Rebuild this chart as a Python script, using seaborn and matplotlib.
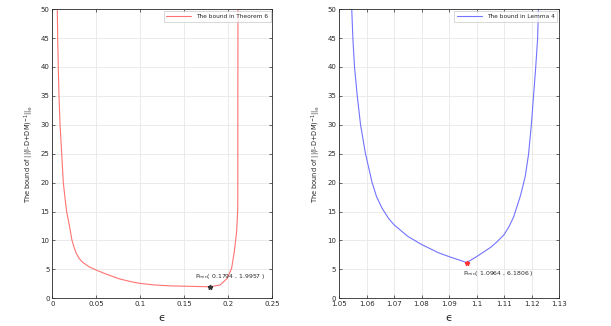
'''two bound curves vs epsilon, side by side'''
import numpy as np
import pandas as pd
import seaborn as sns
import matplotlib
matplotlib.use('Agg')
import matplotlib.pyplot as plt
from matplotlib import ticker

#region data
left_eps = [0.0057, 0.0061, 0.0068, 0.0076, 0.0088, 0.0107, 0.0125, 0.0150, 0.0162,
            0.0196, 0.0224, 0.0248, 0.0273, 0.0305, 0.0342, 0.0418, 0.0503, 0.061,
            0.0763, 0.0916, 0.1, 0.1146, 0.1337, 0.164, 0.1794, 0.1906, 0.1989,
            0.2038, 0.2068, 0.2095, 0.2108, 0.2110]
left_bound = [50, 45, 40, 35, 30, 25, 20, 16.6, 15.1,
              12.4, 10, 8.8, 7.75, 6.9, 6.25, 5.45, 4.85, 4.2,
              3.35, 2.8, 2.58, 2.32, 2.15, 2.04, 1.9957, 2.3, 3.45,
              5.2, 8.0, 11.5, 15.5, 50]
left_min = (0.1794, 1.9957)

right_eps = [1.0546, 1.0550, 1.0556, 1.0566, 1.0578, 1.0596, 1.062, 1.0636, 1.0656,
             1.068, 1.07, 1.075, 1.08, 1.086, 1.09, 1.0932, 1.0964, 1.1, 1.1051,
             1.1075, 1.11, 1.1118, 1.1135, 1.116, 1.1177, 1.1189, 1.1199, 1.1207,
             1.1215, 1.1222, 1.1225]
right_bound = [50, 45, 40, 35, 30, 25, 20, 17.6, 15.6,
               13.8, 12.7, 10.7, 9.3, 7.9, 7.2, 6.7, 6.1806, 7.2, 8.8,
               9.8, 11.0, 12.4, 14.1, 17.8, 21.1, 24.9, 29.9, 34.9,
               39.9, 44.9, 50]
right_min = (1.0964, 6.1806)

left_xticks = [0, 0.05, 0.1, 0.15, 0.2, 0.25]
right_xticks = [1.05, 1.06, 1.07, 1.08, 1.09, 1.1, 1.11, 1.12, 1.13]
yticks = [0, 5, 10, 15, 20, 25, 30, 35, 40, 45, 50]
#endregion

sns.set_theme(style='whitegrid', rc={'grid.color': '#e8e8e8', 'grid.linewidth': 0.6,
                                     'axes.edgecolor': '#2b2b2b', 'axes.linewidth': 0.6})
plt.rcParams['font.family'] = ['DejaVu Sans']

fig = plt.figure(figsize=(6.11, 3.26), dpi=100)
ax_l = fig.add_axes([0.0856, 0.085, 0.360, 0.887])
ax_r = fig.add_axes([0.555, 0.085, 0.360, 0.887])

ylab = 'The bound of ||(I-D+DM)$^{-1}$||$_{\\infty}$'


def style_axis(ax, xticks):
    '''common MATLAB-ish look'''
    ax.set_xlim(xticks[0], xticks[-1])
    ax.set_ylim(0, 50)
    ax.set_xticks(xticks)
    ax.set_yticks(yticks)
    ax.xaxis.set_major_formatter(ticker.FormatStrFormatter('%g'))
    ax.tick_params(axis='both', labelsize=5, length=2, width=0.5, pad=2,
                   colors='#2b2b2b', direction='in', bottom=True, left=True, top=True, right=True)
    ax.set_xlabel('\u03f5', fontsize=8, labelpad=4)
    ax.set_ylabel(ylab, fontsize=4.8, labelpad=3)
    for s in ax.spines.values():
        s.set_visible(True)
    leg = ax.legend(loc='upper right', fontsize=4.2, frameon=True, fancybox=False,
                    handlelength=4.2, borderpad=0.5, borderaxespad=0.3)
    leg.get_frame().set_edgecolor('#bbbbbb')
    leg.get_frame().set_linewidth(0.5)


df_l = pd.DataFrame({'eps': left_eps, 'bound': left_bound})
sns.lineplot(data=df_l, x='eps', y='bound', ax=ax_l, sort=False, estimator=None,
             color='#ff7373', linewidth=0.8, label='The bound in Theorem 6')
ax_l.plot(*left_min, marker='*', color='#333333', markersize=3.5)
ax_l.text(0.162, 3.8, 'P$_{min}$( 0.1794 , 1.9957 )', fontsize=4.4, ha='left', va='center',
          color='#2b2b2b')
style_axis(ax_l, left_xticks)

df_r = pd.DataFrame({'eps': right_eps, 'bound': right_bound})
sns.lineplot(data=df_r, x='eps', y='bound', ax=ax_r, sort=False, estimator=None,
             color='#7373ff', linewidth=0.8, label='The bound in Lemma 4')
ax_r.plot(*right_min, marker='*', color='#ff3333', markersize=3.5)
ax_r.text(1.0951, 4.3, 'P$_{min}$( 1.0964 , 6.1806 )', fontsize=4.4, ha='left', va='center',
          color='#2b2b2b')
style_axis(ax_r, right_xticks)

fig.savefig('out.png', dpi=100)
